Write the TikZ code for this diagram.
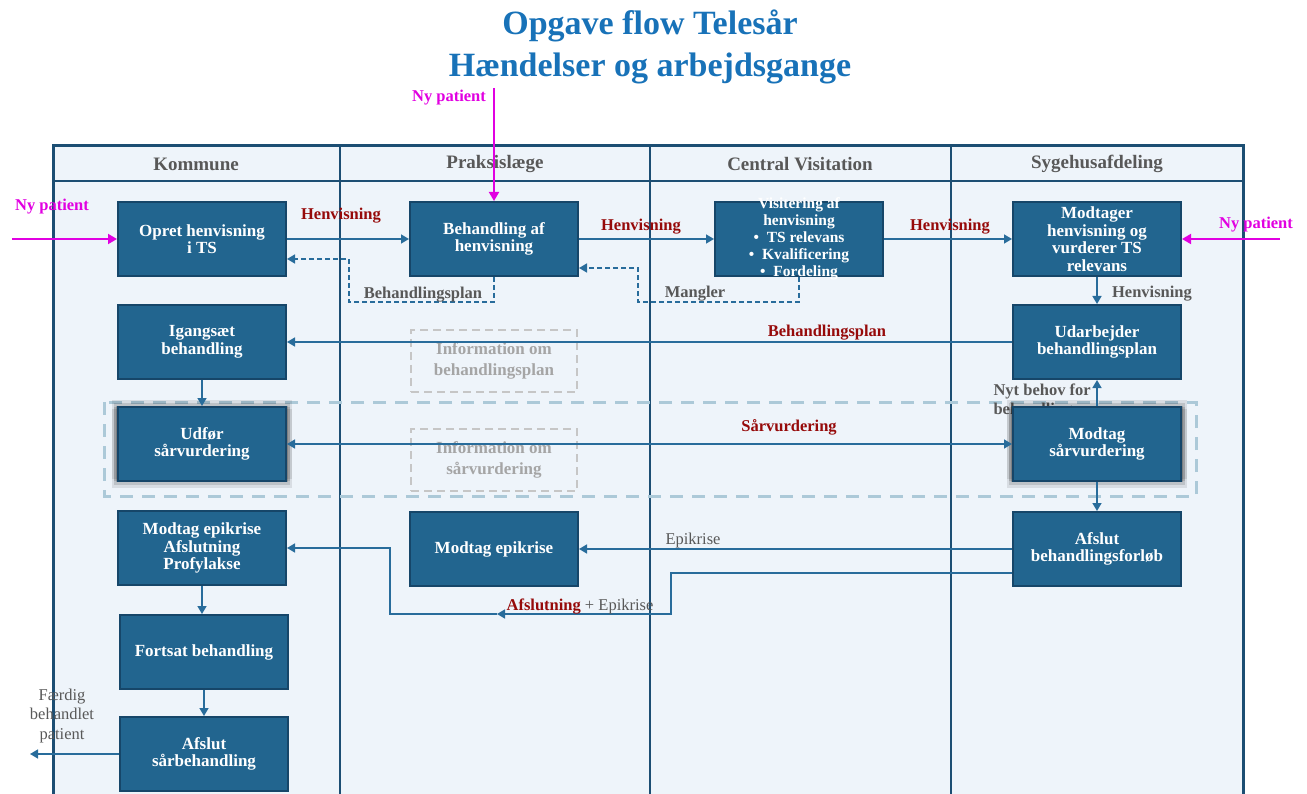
\documentclass[tikz,border=0pt]{standalone}
\usepackage{fontspec}
\setmainfont{Liberation Serif}
\usetikzlibrary{calc,positioning,arrows.meta,shadows}

\definecolor{boxfill}{RGB}{34,101,143}
\definecolor{boxline}{RGB}{22,70,105}
\definecolor{flowblue}{RGB}{40,108,155}
\definecolor{framecol}{RGB}{28,78,115}
\definecolor{lanebg}{RGB}{238,244,250}
\definecolor{zonecol}{RGB}{172,201,216}
\definecolor{infogray}{RGB}{198,198,198}
\definecolor{infotext}{RGB}{165,165,165}
\definecolor{lblgray}{RGB}{88,88,88}
\definecolor{lblred}{RGB}{150,10,10}
\definecolor{newpat}{RGB}{225,0,225}
\definecolor{titleblue}{RGB}{24,114,184}

\tikzset{
  task/.style={draw=boxline, fill=boxfill, line width=2pt, text=white,
    font=\bfseries\fontsize{17}{17.5}\selectfont, align=center,
    minimum width=168pt, minimum height=74pt, inner sep=2pt},
  shadowed/.style={
    general shadow={shadow scale=1.07, shadow yshift=4pt, fill=black, opacity=.09},
    general shadow={shadow scale=1.07, shadow yshift=-4pt, fill=black, opacity=.09},
    general shadow={shadow scale=1.05, shadow yshift=2pt, fill=black, opacity=.12},
    general shadow={shadow scale=1.05, shadow yshift=-2pt, fill=black, opacity=.12},
    general shadow={shadow scale=1.025, fill=black, opacity=.18}},
  info/.style={draw=infogray, dash pattern=on 8pt off 5pt, line width=2.5pt,
    text=infotext, font=\bfseries\fontsize{17}{21}\selectfont, align=center,
    minimum width=166pt, minimum height=62pt},
  flow/.style={draw=flowblue, line width=1.5pt, -{Triangle[width=9pt,length=8pt]}},
  dflow/.style={flow, dash pattern=on 5pt off 3pt},
  newflow/.style={draw=newpat, line width=1.8pt, -{Triangle[width=10pt,length=9pt]}},
  lane/.style={text=lblgray, font=\bfseries\fontsize{19}{22}\selectfont},
  redlbl/.style={text=lblred, font=\bfseries\fontsize{16.5}{18}\selectfont},
  graylbl/.style={text=lblgray, font=\bfseries\fontsize{16.5}{19}\selectfont},
  thinlbl/.style={text=lblgray, font=\fontsize{16.5}{19.5}\selectfont},
  newlbl/.style={text=newpat, font=\bfseries\fontsize{16.5}{18}\selectfont},
}

\begin{document}
\begin{tikzpicture}[x=1pt,y=-1pt]
\useasboundingbox (0,0) rectangle (1307,794);
\fill[lanebg] (53,146) rectangle (1243,800);
\draw[framecol, line width=1.5pt] (53,181) -- (1243,181);
\foreach \x in {340,650,951}
  \draw[framecol, line width=1.5pt] (\x,146) -- (\x,800);
\draw[framecol, line width=3pt] (53,800) -- (53,146) -- (1243,146) -- (1243,800);

\node[text=titleblue, font=\bfseries\fontsize{34}{42}\selectfont, align=center] (title) at (650,47) {Opgave flow Telesår\\Hændelser og arbejdsgange};
\node[lane] (kommune) at (196,164) {Kommune};
\node[lane] (praksis) at (495,164) {Praksislæge};
\node[lane] (central) at (800,164) {Central Visitation};
\node[lane] (sygehus) at (1097,164) {Sygehusafdeling};

\draw[zonecol, line width=3pt, dash pattern=on 13pt off 9pt] (104,402) rectangle (1196,496);
\node[graylbl, anchor=north west, align=left] (nytbehov) at (990,380) {Nyt behov for\\behandling};

\node[task] (opret) at (202,239) {Opret henvisning\\i TS};
\node[task] (behandling) at (494,239) {Behandling af\\henvisning};
\node[task] (visitering) at (799,239) {};
\node[text=white, font=\bfseries\fontsize{15.5}{17}\selectfont, align=center] (visittxt) at (visitering) {Visitering af\\henvisning\\\textbullet\enspace TS relevans\\\textbullet\enspace Kvalificering\\\textbullet\enspace Fordeling};
\node[task] (modtager) at (1097,239) {Modtager\\henvisning og\\vurderer TS\\relevans};
\node[task] (igangsaet) at (202,342) {Igangsæt\\behandling};
\node[task] (udarbejder) at (1097,342) {Udarbejder\\behandlingsplan};
\node[task, shadowed] (udfoer) at (202,444) {Udfør\\sårvurdering};
\node[task, shadowed] (modtagsaar) at (1097,444) {Modtag\\sårvurdering};
\node[task] (kommepi) at (202,548) {Modtag epikrise\\Afslutning\\Profylakse};
\node[task] (praksisepi) at (494,549) {Modtag epikrise};
\node[task] (afslutforloeb) at (1097,549) {Afslut\\behandlingsforløb};
\node[task] (fortsat) at (204,652) {Fortsat behandling};
\node[task] (afslutsaar) at (204,754) {Afslut\\sårbehandling};

\node[info] (infoplan) at (494,361) {Information om\\behandlingsplan};
\node[info] (infosaar) at (494,460) {Information om\\sårvurdering};

\coordinate (np1) at (12,239);
\coordinate (np2) at (494,88);
\coordinate (np3) at (1280,239);
\draw[newflow] (np1) -- (opret.west);
\draw[newflow] (np2) -- (behandling.north);
\draw[newflow] (np3) -- (modtager.east);

\draw[flow] (opret) -- (behandling);
\draw[flow] (behandling) -- (visitering);
\draw[flow] (visitering) -- (modtager);
\draw[dflow] (behandling.south) -- ++(0,25) -| (349,259) -- ($(opret.east)+(0,20)$);
\draw[dflow] (visitering.south) -- ++(0,25) -| (638,268) -- ($(behandling.east)+(0,29)$);
\draw[flow] (modtager) -- (udarbejder);
\draw[flow] (udarbejder) -- (igangsaet);
\draw[flow] (igangsaet) -- (udfoer);
\draw[flow, {Triangle[width=9pt,length=8pt]}-{Triangle[width=9pt,length=8pt]}] (udfoer) -- (modtagsaar);
\draw[flow] (modtagsaar) -- (udarbejder);
\draw[flow] (modtagsaar) -- (afslutforloeb);
\draw[flow] (afslutforloeb) -- (praksisepi);
\coordinate (afslmid) at (497,614);
\draw[flow] ($(afslutforloeb.west)+(0,24)$) -| (671,614) -- (afslmid);
\draw[flow] (afslmid) -- (390,614) |- (kommepi.east);
\draw[flow] (kommepi.south) -- (kommepi.south |- fortsat.north);
\draw[flow] (fortsat) -- (afslutsaar);
\coordinate (ud) at (30,754);
\draw[flow] (afslutsaar) -- (ud);

\node[newlbl] (nplbl1) at (52,207) {Ny patient};
\node[newlbl] (nplbl2) at (449,98) {Ny patient};
\node[newlbl] (nplbl3) at (1256,225) {Ny patient};
\node[redlbl] (henv1) at (341,216) {Henvisning};
\node[redlbl] (henv2) at (641,227) {Henvisning};
\node[redlbl] (henv3) at (950,227) {Henvisning};
\node[graylbl] (planlbl) at (423,295) {Behandlingsplan};
\node[graylbl] (manglbl) at (695,294) {Mangler};
\node[graylbl] (henv4) at (1152,294) {Henvisning};
\node[redlbl] (planlbl2) at (827,333) {Behandlingsplan};
\node[redlbl] (saarlbl) at (789,427) {Sårvurdering};
\node[thinlbl] (epilbl) at (693,541) {Epikrise};
\node[thinlbl] (afsllbl) at (580,607) {\textbf{\color{lblred}Afslutning} + Epikrise};
\node[thinlbl, align=center] (faerdig) at (62,716) {Færdig\\behandlet\\patient};
\end{tikzpicture}
\end{document}
